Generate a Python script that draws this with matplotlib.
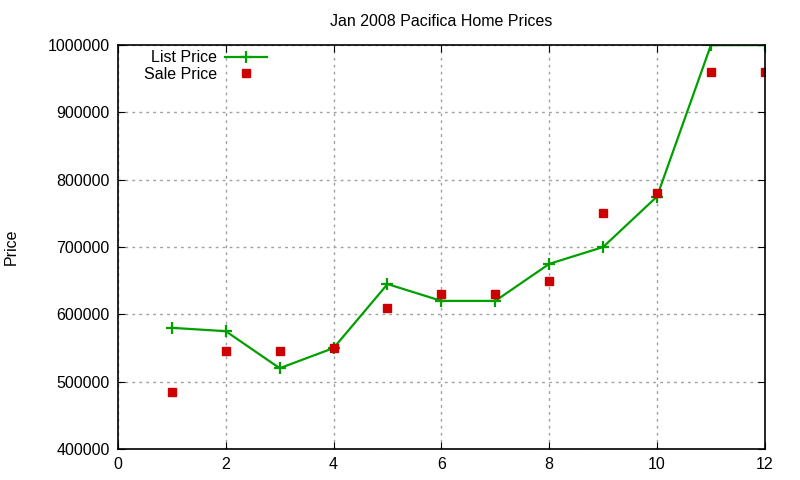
import matplotlib
matplotlib.use("Agg")
from matplotlib import pyplot as plt
from matplotlib.ticker import FormatStrFormatter

plt.rcParams['font.family'] = ['Liberation Sans', 'DejaVu Sans']

months = [1, 2, 3, 4, 5, 6, 7, 8, 9, 10, 11, 12]
list_price = [580000, 575000, 520000, 550000, 645000, 620000, 620000,
              675000, 700000, 775000, 1000000, 1000000]
sale_price = [485000, 545000, 545000, 550000, 610000, 630000, 630000,
              650000, 750000, 780000, 960000, 960000]

fig = plt.figure(figsize=(8, 4.8), dpi=100)
ax = fig.add_axes([0.1475, 0.0646, 0.8085, 0.8414])

ax.plot(months, list_price, color='#00a000', linewidth=1.6, marker='+',
        markersize=8, markeredgewidth=1.6, label='List Price')
ax.plot(months, sale_price, linestyle='none', marker='s', color='#cc0000',
        markersize=6, label='Sale Price')

ax.set_xlim(0, 12)
ax.set_ylim(400000, 1000000)
ax.set_xticks(range(0, 13, 2))
ax.set_yticks(range(400000, 1000001, 100000))
ax.yaxis.set_major_formatter(FormatStrFormatter('%d'))
ax.tick_params(direction='in', top=True, right=True, length=5,
               labelsize=11.5, pad=6)
ax.grid(True, color='#a0a0a0', linestyle=(0, (2, 3)), linewidth=1)
for s in ax.spines.values():
    s.set_linewidth(1.2)

ax.set_title('Jan 2008 Pacifica Home Prices', fontsize=11.5, pad=14)
ax.set_ylabel('Price', fontsize=11.5)
ax.yaxis.set_label_coords(-0.153, 0.5)

ax.legend(loc='upper left', bbox_to_anchor=(0.023, 1.015), frameon=False,
          markerfirst=False, fontsize=11.5, handlelength=2.6,
          labelspacing=0.1, handletextpad=0.5, borderaxespad=0.3)

fig.savefig('out.png', dpi=100)
